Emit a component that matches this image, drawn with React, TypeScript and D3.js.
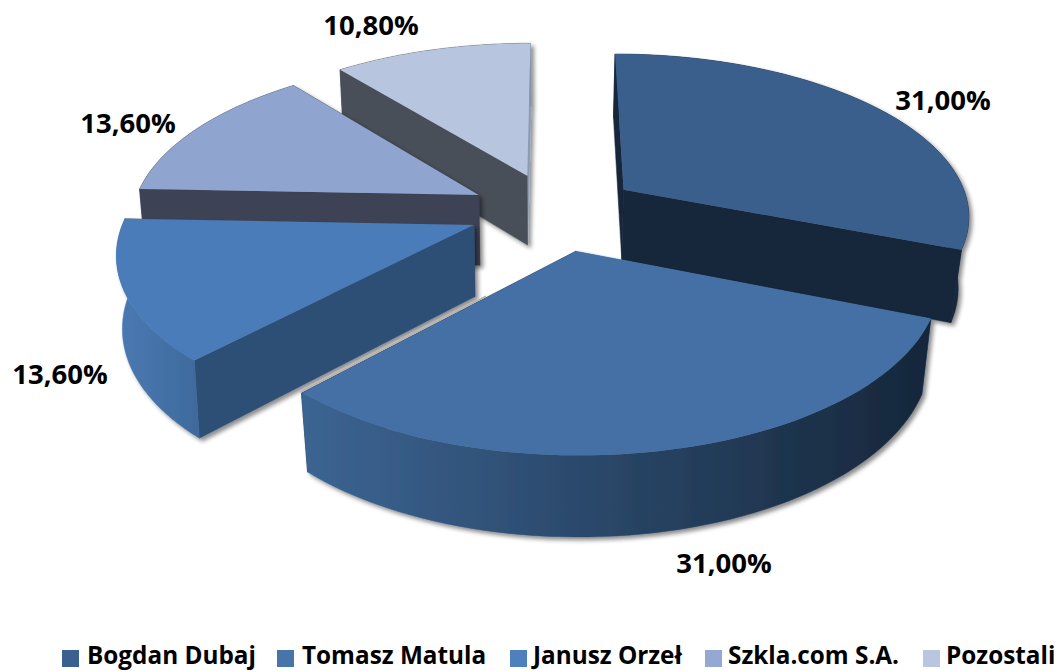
import React from "react";
import * as d3 from "d3";

const categories = ["Bogdan Dubaj", "Tomasz Matula", "Janusz Orzeł", "Szkla.com S.A.", "Pozostali"];
const shares = [31.0, 31.0, 13.6, 13.6, 10.8];
const valueLabels = ["31,00%", "31,00%", "13,60%", "13,60%", "10,80%"];
const topColors = ["#3a5f8c", "#4570a5", "#4a7cb8", "#8fa4cf", "#b8c5df"];
const legendColors = ["#3b608f", "#4775aa", "#4f80bd", "#93a9d1", "#b9c6e0"];
const wallStart = ["#16263a", "#4570a5", "#2f4f75", "#3d4254", "#4a5058"];
const wallEnd = ["#16263a", "#16263a", "#3d4a5f", "#3b4050", "#8a9ab8"];
const outerFrom = ["#16263a", "#3c6593", "#4a7ab3", "#3b4050", "#4a5058"];
const outerTo = ["#16263a", "#16263a", "#3f6b9e", "#3b4050", "#4a5058"];
const labelX = [943, 724, 60, 128, 371];
const labelY = [99, 562, 373, 122, 24];
const legendSwatchX = [62, 277, 510, 705, 923];
const legendTextX = [87, 302, 533, 728, 946];
const drawOrder = [4, 3, 0, 2, 1];
const nudgeX = [1, 2, -3, -3, -1];
const nudgeY = [-1, 0, -2, 0, -1];
const bottomShrink = [0.974, 0.976, 0.986, 0.985, 0.985];

const CX = 555, CY = 212, A = 347, B = 161.4, K = 0.147, EXPLODE = 0.24, DEPTH = 71;

const arcs = d3.pie<number>().sort(null).value((d) => d).startAngle(0).endAngle(2 * Math.PI)(shares);

function project(slice: { startAngle: number; endAngle: number; index: number }, r: number, theta: number, bottom: boolean): [number, number] {
  const mid = (slice.startAngle + slice.endAngle) / 2;
  const X = EXPLODE * Math.sin(mid) + r * Math.sin(theta);
  const Y = EXPLODE * Math.cos(mid) + r * Math.cos(theta);
  const s = 1 / (1 + K * Y);
  const px = A * X * s;
  const py = -B * Y * s;
  const nx = nudgeX[slice.index];
  const ny = nudgeY[slice.index];
  return bottom
    ? [CX + nx + px * bottomShrink[slice.index], CY + ny + py + DEPTH * Math.pow(s, 0.7)]
    : [CX + nx + px, CY + ny + py];
}

const line = d3.line<[number, number]>();

function arcPoints(slice: any, bottom: boolean) {
  return d3.range(0, 61).map((i) => project(slice, 1, slice.startAngle + ((slice.endAngle - slice.startAngle) * i) / 60, bottom));
}

function radialWall(slice: any, theta: number) {
  return line([project(slice, 0, theta, false), project(slice, 1, theta, false), project(slice, 1, theta, true), project(slice, 0, theta, true)]) + "Z";
}

function meanDepth(slice: any, from: number, to: number, r: number) {
  const mid = (slice.startAngle + slice.endAngle) / 2;
  const n = 10;
  const m = d3.mean(d3.range(n + 1), (i) => Math.cos(from + ((to - from) * i) / n)) || 0;
  return EXPLODE * Math.cos(mid) + r * m;
}

export default function App() {
  return (
    <svg width={1057} height={671} style={{ position: "absolute", left: 0, top: 0, background: "#fff" }} fontFamily="'Open Sans', sans-serif" fontWeight={700}>
      <defs>
        <filter id="sh" x="-10%" y="-10%" width="125%" height="125%">
          <feDropShadow dx={3} dy={3} stdDeviation={2} floodColor="#000" floodOpacity={0.45} />
        </filter>
        {arcs.map((a, i) => {
          const pts = arcPoints(a, false);
          const ext = d3.extent(pts, (p) => p[0]) as [number, number];
          return (
            <linearGradient key={i} id={`g${i}`} gradientUnits="userSpaceOnUse" x1={ext[0]} x2={ext[1]} y1={0} y2={0}>
              <stop offset="0" stopColor={outerFrom[i]} />
              <stop offset="1" stopColor={outerTo[i]} />
            </linearGradient>
          );
        })}
      </defs>
      {drawOrder.map((i) => {
        const a = arcs[i];
        const top = arcPoints(a, false);
        const bot = arcPoints(a, true).reverse();
        const topPath = line([project(a, 0, a.startAngle, false), ...top]) + "Z";
        const outerPath = line([...top, ...bot]) + "Z";
        const faces = [
          { d: radialWall(a, a.startAngle), fill: wallStart[i], depth: (meanDepth(a, a.startAngle, a.startAngle, 1) + meanDepth(a, a.startAngle, a.startAngle, 0)) / 2 },
          { d: radialWall(a, a.endAngle), fill: wallEnd[i], depth: (meanDepth(a, a.endAngle, a.endAngle, 1) + meanDepth(a, a.endAngle, a.endAngle, 0)) / 2 },
          { d: outerPath, fill: `url(#g${i})`, depth: meanDepth(a, a.startAngle, a.endAngle, 1) },
        ].sort((p, q) => q.depth - p.depth);
        return (
          <g key={i} filter="url(#sh)">
            {faces.map((f, j) => (
              <path key={j} d={f.d} fill={f.fill} stroke={f.fill} strokeWidth={0.5} />
            ))}
            <path d={topPath} fill={topColors[i]} />
            {i === 1 && (
              <path
                d={line([project(a, 0.35, a.endAngle, false), project(a, 1, a.endAngle, false)]) as string}
                stroke="#b5b1aa"
                strokeWidth={1.6}
                fill="none"
                transform="translate(-1,-1)"
              />
            )}
          </g>
        );
      })}
      {valueLabels.map((t, i) => (
        <text key={i} x={labelX[i]} y={labelY[i]} textAnchor="middle" dominantBaseline="central" fontSize={27.5} fill="#000">
          {t}
        </text>
      ))}
      {categories.map((c, i) => (
        <g key={c}>
          <rect x={legendSwatchX[i]} y={650} width={17} height={17} fill={legendColors[i]} />
          <text x={legendTextX[i]} y={664} fontSize={24.3} fill="#000">
            {c}
          </text>
        </g>
      ))}
    </svg>
  );
}
